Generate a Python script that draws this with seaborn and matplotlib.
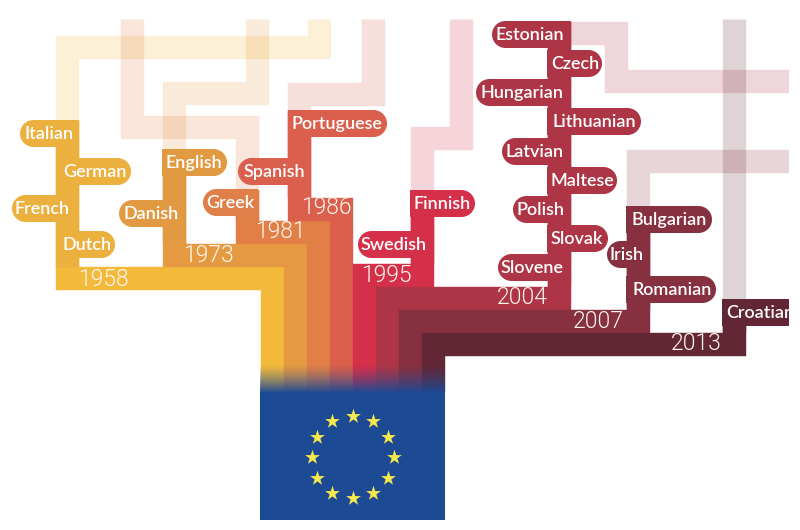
import numpy as np
import matplotlib
matplotlib.use("Agg")
import matplotlib.pyplot as plt
from matplotlib.patches import Circle, Rectangle
from matplotlib.colors import to_rgb
import seaborn as sns

# ---- Data ----
years = ["1958", "1973", "1981", "1986", "1995", "2004", "2007", "2013"]
langs_1958 = ["Italian", "German", "French", "Dutch"]
langs_1973 = ["English", "Danish"]
langs_1981 = ["Greek"]
langs_1986 = ["Portuguese", "Spanish"]
langs_1995 = ["Finnish", "Swedish"]
langs_2004 = ["Estonian", "Czech", "Hungarian", "Lithuanian", "Latvian",
              "Maltese", "Polish", "Slovak", "Slovene"]
langs_2007 = ["Bulgarian", "Irish", "Romanian"]
langs_2013 = ["Croatian"]
all_langs = [langs_1958, langs_1973, langs_1981, langs_1986,
             langs_1995, langs_2004, langs_2007, langs_2013]

# ---- Styles ----
colors = ["#f2b93b", "#e59a42", "#e17f47", "#da5f4c",
          "#d5304a", "#ae3546", "#873040", "#632635"]
stem_colors = ["#ecb03f", "#e29a42", "#e07f47", "#da5f4c",
               "#d5304a", "#ae3546", "#873040", "#632635"]
BLUE = "#1d4a94"
STAR = "#f7e84e"
BAND = 23.4 * 72 / 100  # about 23 px wide at dpi 100, a hair more so trunks leave no seam

# ---- Layout, in pixels of the 800x530 picture ----
# solid route: from the top of the stem, along the band, down the trunk
routes = [
    ([66.5, 66.5, 272, 272], [120, 278, 278, 392]),
    ([173.5, 173.5, 295, 295], [150, 254.5, 254.5, 392]),
    ([246.5, 246.5, 318, 318], [190, 231.5, 231.5, 392]),
    ([299, 299, 341, 341], [110, 208.5, 208.5, 392]),
    ([421.5, 421.5, 364, 364], [190, 274.5, 274.5, 392]),
    ([558.5, 558.5, 387, 387], [21, 297.5, 297.5, 392]),
    ([637.5, 637.5, 410, 410], [206, 320.5, 320.5, 392]),
    ([733.5, 733.5, 433, 433], [299, 343.5, 343.5, 392]),
]
# pale route above each stem
pale = [
    ([318.5, 318.5, 66.5, 66.5], [19, 46.5, 46.5, 120]),
    ([256.5, 256.5, 173.5, 173.5], [19, 93, 93, 150]),
    ([131.5, 131.5, 246.5, 246.5], [19, 127, 127, 190]),
    ([372.5, 372.5, 299, 299], [19, 94, 94, 110]),
    ([461, 461, 421.5, 421.5], [19, 137.5, 137.5, 190]),
    ([558.5, 615.5, 615.5, 789], [32.5, 32.5, 80.5, 80.5]),
    ([789, 637.5, 637.5], [160.5, 160.5, 206]),
    ([733.5, 733.5], [19, 299]),
]
year_pos = [(103.5, 279), (208, 255), (280, 232), (326, 207),
            (386, 275), (522, 298), (598, 321), (696, 344)]
# x0, x1, y0, rounded side, text centre x
pills = {
    "Italian": (20, 78, 120, "L", 49), "German": (63, 131, 158, "R", 95),
    "French": (12, 78, 195, "L", 42), "Dutch": (63, 115, 231, "R", 87),
    "English": (162, 227, 149, "R", 194), "Danish": (119, 185, 200, "L", 151),
    "Greek": (203, 258, 189, "L", 230),
    "Portuguese": (288, 387, 110, "R", 337), "Spanish": (238, 310, 158, "L", 274),
    "Finnish": (410, 475, 190, "R", 442), "Swedish": (358, 433, 231, "L", 394),
    "Estonian": (492, 570, 21, "L", 530), "Czech": (547, 602, 50, "R", 575),
    "Hungarian": (476, 570, 79, "L", 522), "Lithuanian": (547, 641, 108, "R", 594),
    "Latvian": (502, 570, 138, "L", 535), "Maltese": (547, 617, 167, "R", 582),
    "Polish": (513, 570, 196, "L", 540), "Slovak": (547, 608, 225, "R", 577),
    "Slovene": (498, 570, 254, "L", 532),
    "Bulgarian": (626, 712, 206, "R", 669), "Irish": (607, 649, 241, "L", 627),
    "Romanian": (626, 716, 276, "R", 672),
    "Croatian": (722, 795, 299, "S", 760),
}
PILL_H = 27

# ---- Plot ----
sns.set_theme(style="white")
plt.rcParams["font.family"] = ["Lato", "DejaVu Sans"]
fig, ax = plt.subplots(figsize=(8, 5.3), dpi=100)
fig.subplots_adjust(0, 0, 1, 1)
ax.set_axis_off()

line_kws = dict(sort=False, estimator=None, linewidth=BAND, ax=ax, legend=False,
                solid_joinstyle="miter", solid_capstyle="butt")

for (xs, ys), c in zip(pale, colors):
    sns.lineplot(x=xs, y=ys, color=c, alpha=0.2, zorder=1, **line_kws)
for (xs, ys), c, sc in zip(routes, colors, stem_colors):
    sns.lineplot(x=xs, y=ys, color=c, zorder=2, **line_kws)
    # the stems are a touch duller than the bands
    sns.lineplot(x=xs[:2], y=[ys[0], ys[1] - 11.5], color=sc, zorder=2, **line_kws)

# language pills, rounded on the outer end only
for langs, c in zip(all_langs, stem_colors):
    for name in langs:
        x0, x1, y0, side, tx = pills[name]
        r = PILL_H / 2
        if side == "L":
            ax.add_patch(Circle((x0 + r, y0 + r), r, fc=c, ec="none", zorder=3))
            ax.add_patch(Rectangle((x0 + r, y0), x1 - x0 - r, PILL_H, fc=c, ec="none", zorder=3))
        elif side == "R":
            ax.add_patch(Circle((x1 - r, y0 + r), r, fc=c, ec="none", zorder=3))
            ax.add_patch(Rectangle((x0, y0), x1 - x0 - r, PILL_H, fc=c, ec="none", zorder=3))
        else:
            ax.add_patch(Rectangle((x0, y0), x1 - x0, PILL_H, fc=c, ec="none", zorder=3))
        ax.text(tx, y0 + PILL_H / 2 + 0.5, name, color="white", fontsize=13,
                fontweight="semibold", ha="center", va="center", zorder=5)

for year, (x, y) in zip(years, year_pos):
    ax.text(x, y, year, color="#fdf6ee", fontsize=16.5, fontweight=300,
            family=["Roboto", "DejaVu Sans"], ha="center", va="center", zorder=5)

# flag, with the trunks fading into it
ax.add_patch(Rectangle((260, 392), 185, 128, fc=BLUE, ec="none", zorder=4))
fade = np.zeros((64, 1, 4))
fade[..., :3] = to_rgb(BLUE)
fade[:, 0, 3] = np.linspace(0, 1, 64) ** 1.3
ax.imshow(fade, extent=(260, 445, 393, 364), aspect="auto", zorder=4,
          interpolation="bilinear")

angles = np.deg2rad(np.arange(0, 360, 30))
sns.scatterplot(x=352.5 + 41 * np.sin(angles), y=457 - 41 * np.cos(angles),
                marker="*", s=125, color=STAR, linewidth=0, zorder=6, ax=ax, legend=False)

# picture is cut off on the right
ax.add_patch(Rectangle((789, 0), 11, 530, fc="white", ec="none", zorder=7))

ax.set_xlim(0, 800)
ax.set_ylim(530, 0)
fig.savefig("out.png", dpi=100, facecolor="white")
